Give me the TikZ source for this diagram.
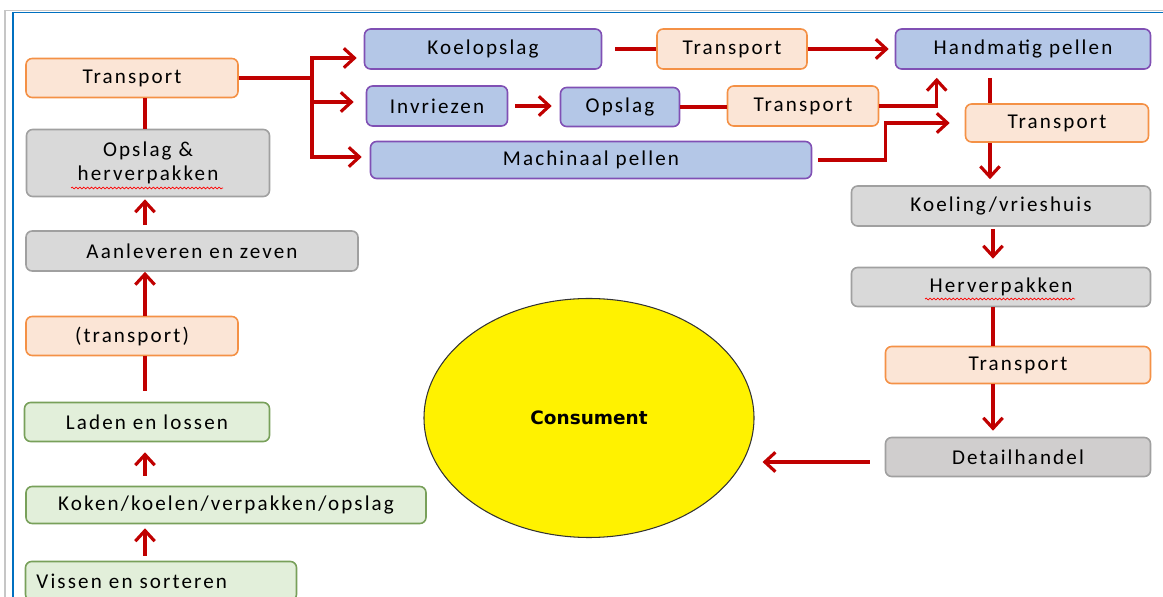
\documentclass[tikz,border=0pt]{standalone}
\usepackage{fontspec}
\setmainfont{Carlito}[LetterSpace=10]
\newfontfamily\consfont{DejaVu Sans}
\usetikzlibrary{shapes.geometric,arrows.meta,calc,decorations.pathmorphing}

\definecolor{orfill}{RGB}{251,229,214}
\definecolor{ordraw}{RGB}{244,145,70}
\definecolor{blfill}{RGB}{180,199,231}
\definecolor{bldraw}{RGB}{128,80,180}
\definecolor{grfill}{RGB}{217,217,217}
\definecolor{grdraw}{RGB}{160,160,160}
\definecolor{gnfill}{RGB}{226,239,218}
\definecolor{gndraw}{RGB}{120,160,90}
\definecolor{dkfill}{RGB}{208,206,206}
\definecolor{arrred}{RGB}{192,0,0}
\definecolor{frameblue}{RGB}{0,112,192}

\tikzset{
  box/.style={rounded corners=3.5pt, line width=0.9pt, inner sep=0pt,
    font=\fontsize{12}{14}\selectfont, align=center},
  wh/.style 2 args={minimum width=#1*0.02cm, minimum height=#2*0.02cm},
  transbox/.style={box, fill=orfill, draw=ordraw},
  koelbox/.style={box, fill=blfill, draw=bldraw},
  grijsbox/.style={box, fill=grfill, draw=grdraw},
  groenbox/.style={box, fill=gnfill, draw=gndraw},
  link/.style={draw=arrred, line width=2pt},
  arr/.style={link, -{Straight Barb[length=6pt,width=11pt,line width=1.8pt]}},
  spell/.style={draw=red, line width=0.4pt, decorate,
    decoration={snake, amplitude=0.5pt, segment length=2.2pt}},
}

\begin{document}
\begin{tikzpicture}[x=0.02cm, y=-0.02cm]
        \useasboundingbox (0,0) rectangle (1163,597);
        \clip (0,0) rectangle (1163,597);

        % frame of the page
        \draw[gray!45, line width=1pt] (5,597) -- (5,10.5) -- (1163,10.5);
        \draw[frameblue, line width=0.9pt] (13,597) -- (13,12.5) -- (1163,12.5);

        % Left column
        \node[transbox, wh={212}{39}] (trA) at (132,78) {Transport};
        \node[grijsbox, wh={243}{67}] (opsl) at (148,163) {Opslag \&\\herverpakken};
        \node[grijsbox, wh={332}{40}] (aanl) at (192,251) {Aanleveren en zeven};
        \node[transbox, wh={212}{39}] (trB) at (132,336) {(transport)};
        \node[groenbox, wh={245}{39}] (lade) at (147,422) {Laden en lossen};
        \node[groenbox, wh={400}{37}] (koken) at (226,505) {Koken/koelen/verpakken/opslag};
        \node[groenbox, wh={271}{39}, align=left, text width=249*0.02cm] (vis) at (161,581) {Vissen en sorteren};

        % Top rows
        \node[koelbox, wh={237}{40}] (koelop) at (483,49) {Koelopslag};
        \node[transbox, wh={150}{40}] (trT) at (732,49) {Transport};
        \node[koelbox, wh={255}{40}] (hand) at (1023,49) {Handmatig pellen};
        \node[koelbox, wh={141}{40}] (inv) at (437,106) {Invriezen};
        \node[koelbox, wh={119}{39}] (ops) at (620,107) {Opslag};
        \node[transbox, wh={151}{40}] (trM) at (803,106) {Transport};
        \node[koelbox, wh={441}{37}] (mach) at (591,160) {Machinaal pellen};

        % Right column
        \node[transbox, wh={183}{38}] (trR) at (1057,123) {Transport};
        \node[grijsbox, wh={299}{40}] (koel) at (1001,206) {Koeling/vrieshuis};
        \node[grijsbox, wh={299}{39}] (herv) at (1001,287) {Herverpakken};
        \node[transbox, wh={265}{37}] (trL) at (1018,365) {Transport};
        \node[box, fill=dkfill, draw=grdraw, wh={265}{39}] (det) at (1018,457) {Detailhandel};

        % Consument
        \node[ellipse, draw=black!80, line width=0.6pt, fill=yellow, wh={330}{239},
          font=\consfont\bfseries\fontsize{10.5}{12}\selectfont] (cons) at (589,418) {Consument};

        % spelling marks
        \draw[spell] ($(opsl.center)+(-77,25)$) -- ($(opsl.center)+(75,25)$);
        \draw[spell] ($(herv.center)+(-76,12)$) -- ($(herv.center)+(74,12)$);

        % arrows left column
        \coordinate (lcol) at (145,0);
        \draw[link] (trA.south -| lcol) -- (opsl.north -| lcol);
        \draw[arr, shorten <=1mm, shorten >=0.4mm] (aanl.north -| lcol) -- (opsl.south -| lcol);
        \draw[arr] (trB.north -| lcol) -- (aanl.south -| lcol);
        \draw[link, shorten <=2.2mm] (lade.north -| lcol) -- (trB.south -| lcol);
        \draw[arr, shorten <=2mm, shorten >=2mm] (koken.north -| lcol) -- (lade.south -| lcol);
        \draw[arr, shorten <=1mm, shorten >=0.8mm] (vis.north -| lcol) -- (koken.south -| lcol);

        % arrows top rows
        \coordinate (split) at (312,78);
        \draw[link] (trA.east) -- (split);
        \draw[arr] (split) |- ($(koelop.west)+(-7,9)$);
        \draw[arr] (split) |- ($(inv.west)+(-12,-4)$);
        \draw[arr] (split) |- ($(mach.west)+(-8,-3)$);
        \draw[link, shorten <=2.6mm] (koelop.east) -- (trT.west);
        \draw[arr, shorten >=1.2mm] (trT.east) -- (hand.west);
        \draw[arr, shorten <=1.4mm, shorten >=1.6mm] (inv.east) -- (inv.east -| ops.west);
        \draw[link] (ops.east) -- (ops.east -| trM.west);
        \draw[arr] (trM.east) -| ($(hand.south west)+(42,8)$);
        \draw[arr] ($(mach.east)+(6,0)$) -- ++(67,0) |- ($(trR.west)+(-15,0)$);

        % arrows right column
        \coordinate (rcol) at (990,0);
        \coordinate (rcolb) at (993,0);
        \draw[link, shorten <=1.6mm] (hand.south -| rcol) -- (trR.north -| rcol);
        \draw[arr, shorten >=1.2mm] (trR.south -| rcol) -- (koel.north -| rcol);
        \draw[arr, shorten <=0.4mm, shorten >=1.6mm] (koel.south -| rcolb) -- (herv.north -| rcolb);
        \draw[link] (herv.south -| rcolb) -- (trL.north -| rcolb);
        \draw[arr, shorten >=1.2mm] (trL.south -| rcolb) -- (det.north -| rcolb);
        \draw[arr, shorten <=3mm] ($(det.west)+(0,5)$) -- ($(cons.east)+(8,44)$);
    \end{tikzpicture}
\end{document}
